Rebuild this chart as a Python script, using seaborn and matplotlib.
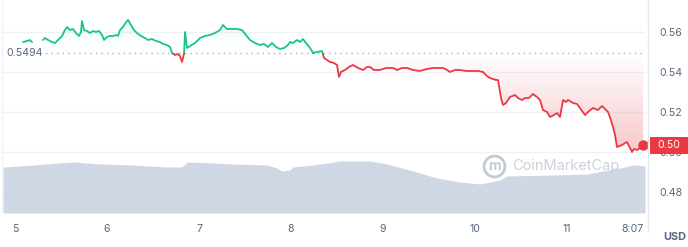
import numpy as np
import pandas as pd
import matplotlib
matplotlib.use("Agg")
import matplotlib.pyplot as plt
import seaborn as sns
from matplotlib.patches import Rectangle
from matplotlib.lines import Line2D
from matplotlib.path import Path

# ---------------- data ----------------
seg_a_day = [5.087, 5.130, 5.163, 5.185]
seg_a_price = [0.5550, 0.5555, 0.5560, 0.5550]

seg_b_day = [
    5.304, 5.326, 5.359, 5.402, 5.435, 5.467, 5.511, 5.543, 5.565, 5.598, 5.630, 5.663,
    5.696, 5.717, 5.728, 5.750, 5.783, 5.815, 5.848, 5.880, 5.913, 5.946, 5.967, 6.000,
    6.033, 6.065, 6.098, 6.120, 6.141, 6.174, 6.207, 6.228, 6.261, 6.293, 6.326, 6.370,
    6.413, 6.446, 6.489, 6.533, 6.576, 6.609, 6.652, 6.685, 6.707, 6.739, 6.772, 6.793,
    6.815, 6.837, 6.848, 6.870, 6.902, 6.957, 7.011, 7.065, 7.120, 7.174, 7.228, 7.261,
    7.304, 7.359, 7.413, 7.467, 7.511, 7.554, 7.609, 7.663, 7.707, 7.750, 7.793, 7.837,
    7.880, 7.924, 7.967, 7.989, 8.022, 8.065, 8.098, 8.130, 8.163, 8.207, 8.239, 8.283,
    8.337, 8.359, 8.424, 8.467, 8.500, 8.522, 8.543, 8.587, 8.630, 8.674, 8.728, 8.783,
    8.826, 8.859, 8.902, 8.967, 9.033, 9.109, 9.152, 9.207, 9.261, 9.326, 9.402, 9.478,
    9.543, 9.598, 9.652, 9.696, 9.728, 9.783, 9.837, 9.902, 9.978, 10.033, 10.087, 10.130,
    10.163, 10.196, 10.228, 10.250, 10.283, 10.304, 10.337, 10.380, 10.435, 10.467, 10.511,
    10.543, 10.587, 10.630, 10.674, 10.707, 10.739, 10.783, 10.815, 10.859, 10.891, 10.924,
    10.957, 10.989, 11.011, 11.065, 11.109, 11.141, 11.196, 11.239, 11.283, 11.337, 11.380,
    11.413, 11.446, 11.478, 11.500, 11.522, 11.543, 11.598, 11.652, 11.685, 11.707, 11.728,
    11.761, 11.793, 11.826,
]
seg_b_price = [
    0.5560, 0.5570, 0.5560, 0.5550, 0.5545, 0.5560, 0.5580, 0.5610, 0.5625, 0.5610, 0.5615, 0.5595,
    0.5580, 0.5600, 0.5655, 0.5610, 0.5605, 0.5595, 0.5605, 0.5600, 0.5605, 0.5585, 0.5560, 0.5575,
    0.5580, 0.5580, 0.5585, 0.5580, 0.5610, 0.5625, 0.5650, 0.5660, 0.5635, 0.5610, 0.5595, 0.5580,
    0.5570, 0.5560, 0.5565, 0.5555, 0.5550, 0.5540, 0.5535, 0.5525, 0.5495, 0.5485, 0.5490, 0.5480,
    0.5450, 0.5490, 0.5600, 0.5520, 0.5530, 0.5545, 0.5570, 0.5580, 0.5585, 0.5595, 0.5610, 0.5635,
    0.5615, 0.5615, 0.5615, 0.5610, 0.5585, 0.5560, 0.5545, 0.5535, 0.5540, 0.5525, 0.5545, 0.5525,
    0.5515, 0.5520, 0.5535, 0.5550, 0.5545, 0.5560, 0.5550, 0.5565, 0.5545, 0.5520, 0.5495, 0.5500,
    0.5505, 0.5470, 0.5450, 0.5445, 0.5435, 0.5375, 0.5400, 0.5410, 0.5425, 0.5435, 0.5420, 0.5410,
    0.5425, 0.5425, 0.5410, 0.5410, 0.5420, 0.5420, 0.5410, 0.5420, 0.5420, 0.5410, 0.5405, 0.5415,
    0.5420, 0.5420, 0.5420, 0.5410, 0.5400, 0.5410, 0.5410, 0.5405, 0.5405, 0.5405, 0.5400, 0.5380,
    0.5370, 0.5365, 0.5360, 0.5360, 0.5270, 0.5235, 0.5245, 0.5275, 0.5285, 0.5270, 0.5260,
    0.5270, 0.5270, 0.5290, 0.5275, 0.5260, 0.5210, 0.5200, 0.5175, 0.5185, 0.5195, 0.5175,
    0.5260, 0.5250, 0.5260, 0.5245, 0.5240, 0.5220, 0.5185, 0.5205, 0.5220, 0.5210, 0.5230,
    0.5215, 0.5200, 0.5160, 0.5125, 0.5085, 0.5025, 0.5035, 0.5050, 0.5020, 0.5000, 0.5015,
    0.5010, 0.5020, 0.5035,
]

vol_day = [4.870, 5.196, 5.630, 5.924, 6.283, 6.652, 6.815, 6.870, 7.152, 7.370, 7.739, 7.848,
           7.902, 7.989, 8.022, 8.239, 8.402, 8.533, 8.859, 9.043, 9.326, 9.587, 9.837, 10.054,
           10.272, 10.348, 10.848, 11.217, 11.576, 11.717, 11.848]
vol_value = [184, 192, 204, 196, 192, 184, 184, 204, 200, 196, 192, 180,
             168, 172, 184, 192, 200, 208, 208, 196, 168, 140, 124, 116,
             132, 148, 152, 156, 180, 192, 188]

baseline_price = 0.5494
y_ticks = [0.48, 0.50, 0.52, 0.54, 0.56]
x_ticks = [5, 6, 7, 8, 9, 10, 11, 11.717]
x_tick_labels = ["5", "6", "7", "8", "9", "10", "11", "8:07"]
last_label = "0.50"

# ---------------- style ----------------
sns.set_theme(style="white")
plt.rcParams["font.family"] = ["Inter", "DejaVu Sans"]

GREEN = "#16c784"
RED = "#ea3943"
GRAY_TXT = "#58667e"
GRID = "#eff2f5"
VOL = "#cfd6e4"

W, H = 688, 247
fig = plt.figure(figsize=(W / 100, H / 100), dpi=100)
rect = [1 / W, 1 - 213 / H, 644 / W, 213 / H]
ax = fig.add_axes(rect)
vax = fig.add_axes(rect)
vax.patch.set_visible(False)

xmin, xmax = 5 + (1 - 15) / 92, 5 + (645 - 15) / 92
ymin, ymax = 0.56 - 181 * 0.0005, 0.56 + 32 * 0.0005

df = pd.concat([
    pd.DataFrame({"day": seg_a_day, "price": seg_a_price, "seg": 0}),
    pd.DataFrame({"day": seg_b_day, "price": seg_b_price, "seg": 1}),
], ignore_index=True)

# gradient fills between line and baseline
for seg, g in df.groupby("seg"):
    d = g["day"].to_numpy()
    p = g["price"].to_numpy()
    for above, color, amax in [(True, GREEN, 0.10), (False, RED, 0.28)]:
        where = p >= baseline_price if above else p <= baseline_price
        poly = ax.fill_between(d, p, baseline_price, where=where, interpolate=True,
                               facecolor="none", edgecolor="none")
        paths = poly.get_paths()
        if not paths:
            continue
        rgb = matplotlib.colors.to_rgb(color)
        n = 256
        grad = np.zeros((n, 1, 4))
        grad[..., 0], grad[..., 1], grad[..., 2] = rgb
        a = np.linspace(0, 1, n)
        if above:
            grad[:, 0, 3] = a * amax
            y0, y1 = baseline_price, ymax
        else:
            grad[:, 0, 3] = (1 - a) * amax
            y0, y1 = 0.50, baseline_price
        im = ax.imshow(grad, extent=[xmin, xmax, y0, y1], origin="lower",
                       aspect="auto", zorder=1)
        im.set_clip_path(Path.make_compound_path(*paths), transform=ax.transData)

# price line, green above / red below baseline
for color, clip in [(GREEN, (baseline_price, ymax + 1)), (RED, (ymin - 1, baseline_price))]:
    n_before = len(ax.lines)
    sns.lineplot(data=df, x="day", y="price", units="seg", estimator=None, sort=False,
                 color=color, linewidth=1.3, ax=ax, legend=False, zorder=3)
    clip_rect = Rectangle((xmin - 1, clip[0]), xmax - xmin + 2, clip[1] - clip[0],
                          transform=ax.transData, visible=False)
    ax.add_patch(clip_rect)
    for ln in ax.lines[n_before:]:
        ln.set_clip_path(clip_rect)
        ln.set_solid_capstyle("round")
        ln.set_solid_joinstyle("round")

# end marker
ax.plot([seg_b_day[-1]], [seg_b_price[-1]], "o", color=RED, markersize=6.5, zorder=4,
        clip_on=False)

# baseline
ax.axhline(baseline_price, color="#a7b1c2", linewidth=1, linestyle=(0, (1, 3)), zorder=2)
ax.text(5 / 644, baseline_price, "0.5494", transform=ax.get_yaxis_transform(),
        ha="left", va="center", fontsize=7.6, color=GRAY_TXT, zorder=5,
        bbox=dict(facecolor="white", edgecolor="none", pad=0.5))

ax.set_xlim(xmin, xmax)
ax.set_ylim(ymin, ymax)
ax.set_yticks(y_ticks)
ax.set_yticklabels([f"{v:.2f}" for v in y_ticks])
ax.yaxis.tick_right()
ax.set_xticks(x_ticks)
ax.set_xticklabels(x_tick_labels)
ax.tick_params(axis="y", length=0, pad=10, labelsize=7.6, labelcolor=GRAY_TXT)
ax.tick_params(axis="x", length=0, pad=8, labelsize=7.6, labelcolor=GRAY_TXT)
ax.set_xlabel("")
ax.set_ylabel("")
ax.grid(axis="y", color=GRID, linewidth=1)
ax.grid(axis="x", visible=False)
for s in ax.spines.values():
    s.set_visible(False)

# volume
vdf = pd.DataFrame({"day": vol_day, "vol": vol_value})
vax.fill_between(vdf["day"], vdf["vol"], 0, color=VOL, linewidth=0, zorder=1)
vax.set_xlim(xmin, xmax)
vax.set_ylim(0, 213 * 4)
vax.axis("off")

# watermark
vax.plot([(494 - 1) / 644], [47 / 213], "o", markersize=15, markerfacecolor="none",
         markeredgecolor="#c3cad6", markeredgewidth=2, transform=vax.transAxes, zorder=2)
vax.text((494 - 1) / 644, 47 / 213, "m", transform=vax.transAxes, ha="center", va="center",
         fontsize=10, color="#c3cad6", fontweight="bold", zorder=2)
vax.text((512 - 1) / 644, 47 / 213, "CoinMarketCap", transform=vax.transAxes, ha="left",
         va="center", fontsize=10.5, color="#c6ccd7", zorder=2, alpha=0.9)

# last price label box
last_p = seg_b_price[-1]
box_h = 17 * 0.0005
ax.add_patch(Rectangle(((650 - 1) / 644, last_p - box_h / 2), 38 / 644, box_h,
                       transform=ax.get_yaxis_transform(), facecolor=RED, edgecolor="none",
                       clip_on=False, zorder=6))
ax.text((669 - 1) / 644, last_p, last_label, transform=ax.get_yaxis_transform(),
        ha="center", va="center", fontsize=7.6, color="white", zorder=7, clip_on=False)

# borders
fig.add_artist(Line2D([648 / W, 648 / W], [1, 1 - 232 / H], color="#e6e9ee", linewidth=1))
fig.add_artist(Line2D([2 / W, 2 / W], [1, 1 - 213 / H], color="#f1f3f6", linewidth=1))

fig.text(686 / W, 1 - 237 / H, "USD", ha="right", va="center", fontsize=7.8,
         fontweight="bold", color="#58667e")

fig.savefig("out.png", dpi=100)
